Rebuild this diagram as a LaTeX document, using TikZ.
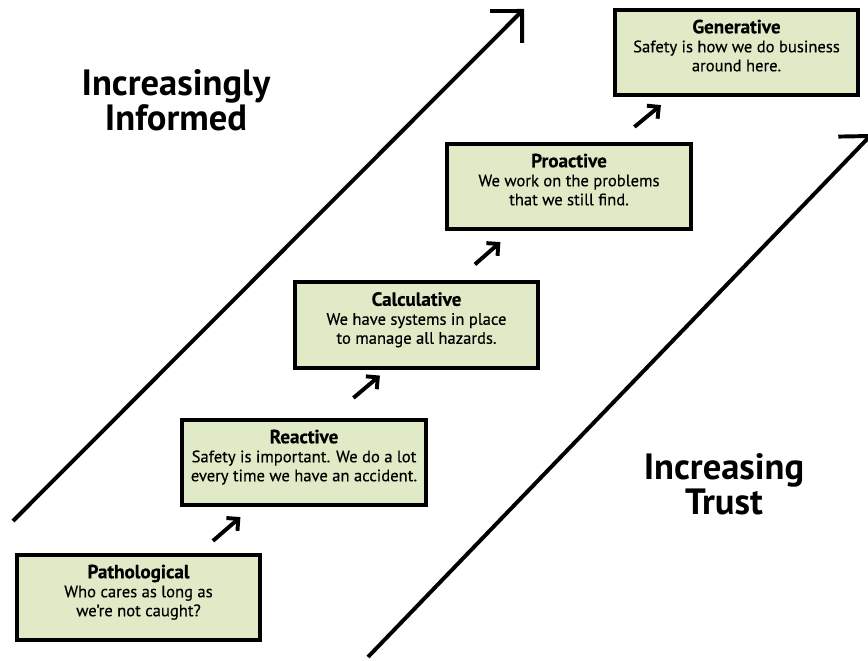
\documentclass[tikz,border=0pt]{standalone}
\usepackage{fontspec}
\setmainfont{PT Sans}
\newfontfamily\stagefont{PT Sans}[FakeBold=0.35]
\usepackage{tikz}
\usetikzlibrary{positioning,arrows.meta}
\definecolor{stagegreen}{RGB}{224,234,198}
\newcommand{\stagetitle}[1]{{\fontsize{13.6}{13.5}\selectfont\bfseries #1}}
\tikzset{
	stage/.style={draw, line width=2.8pt, fill=stagegreen, minimum width=6.08cm, minimum height=2.13cm,
		align=center, font=\stagefont\fontsize{11.8}{13.5}\selectfont, text depth=10pt},
	bigarrow/.style={line width=2.8pt, -{Straight Barb[length=16pt,width=32pt]}},
	smallarrow/.style={line width=2.8pt, -{Straight Barb[length=6pt,width=12pt]}},
	bigtext/.style={align=center, font=\fontsize{26}{19.5}\selectfont\bfseries}
}

\begin{document}
\begin{tikzpicture}[x=0.025cm,y=-0.025cm]
	    \useasboundingbox (0,0) rectangle (868,661);
	    % the two long diagonals
	    \coordinate (inf0) at (13,521);
	    \coordinate (inf1) at (524,9);
	    \coordinate (tru0) at (368,657);
	    \coordinate (tru1) at (872,134);
	    \draw[bigarrow] (inf0) -- (inf1);
	    \draw[bigarrow] (tru0) -- (tru1);
	    \node[bigtext] (informed) at (176,100) {Increasingly\\Informed};
	    \node[bigtext] (trust) at (724,484) {Increasing\\Trust};
	    % stages
	    \node[stage] (path) at (138.5,597.5) {\stagetitle{Pathological}\\Who cares as long as\\we’re not caught?};
	    \node[stage] (react) at (304,462.5) {\stagetitle{Reactive}\\Safety is important. We do a lot\\every time we have an accident.};
	    \node[stage] (calc) at (416.5,325) {\stagetitle{Calculative}\\We have systems in place\\to manage all hazards.};
	    \node[stage] (pro) at (569,186.5) {\stagetitle{Proactive}\\We work on the problems\\that we still find.};
	    \node[stage] (gen) at (736.5,52.5) {\stagetitle{Generative}\\Safety is how we do business\\around here.};
		\begin{scope}[smallarrow]
			\draw ([shift={(198,-12)}]path.north west) -- ([shift={(60,10)}]react.south west);
			\draw ([shift={(173,-20)}]react.north west) -- ([shift={(87,6)}]calc.south west);
			\draw ([shift={(182,-16)}]calc.north west) -- ([shift={(55,11)}]pro.south west);
			\draw ([shift={(189,-15)}]pro.north west) -- ([shift={(48,8)}]gen.south west);
		\end{scope}
	\end{tikzpicture}
\end{document}
